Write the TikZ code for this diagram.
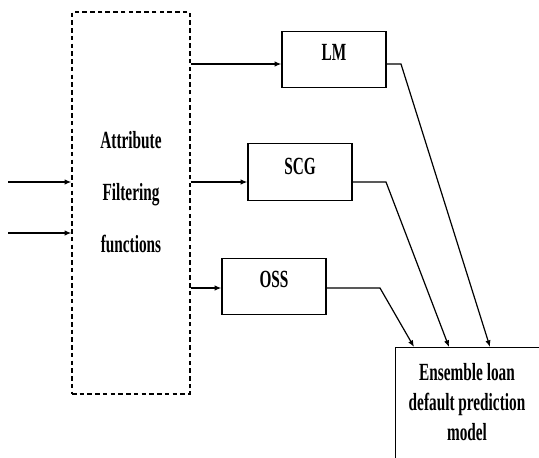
\documentclass[tikz,border=0pt]{standalone}
\usepackage{fontspec}
\setmainfont{Liberation Serif}[FakeStretch=0.62]
\usetikzlibrary{arrows.meta}
\begin{document}
\begin{tikzpicture}[x=0.75pt,y=-0.75pt,line width=0.9pt,
  lbl/.style={font=\bfseries\fontsize{18.5}{22}\selectfont},
  box/.style={draw,rectangle,minimum width=78pt,minimum height=42.5pt,inner sep=0pt},
  dbox/.style={draw,rectangle,line width=1pt,dash pattern=on 3.4pt off 2.4pt,minimum width=88.5pt,minimum height=286.5pt,inner sep=0pt},
  arr/.style={-{Latex[length=5pt,width=4pt]}}]
\useasboundingbox (0,0) rectangle (539,457);
\clip (0,0) rectangle (539,457);
% filter box
\node[dbox] (af) at (131,203) {};
\node[lbl,align=center,font=\bfseries\fontsize{18.5}{39}\selectfont] (aft) at (131,192) {Attribute\\Filtering\\functions};
% classifiers
\node[box,label={[lbl,yshift=5.5pt]center:LM}] (lm) at (334,59.5) {};
\node[box,label={[lbl,yshift=4.5pt]center:SCG}] (scg) at (300,172) {};
\node[box,label={[lbl,yshift=5pt]center:OSS}] (oss) at (274,286.5) {};
% ensemble
\node[draw,rectangle,anchor=north west,minimum width=112.5pt,minimum height=97.5pt,inner sep=0pt] (ens) at (395,347) {};
\node[lbl,align=center,font=\bfseries\fontsize{18.5}{22.5}\selectfont] (enst) at (467,402) {Ensemble loan\\default prediction\\model};
% coordinates
\coordinate (in1) at (8,182);
\coordinate (in2) at (8,233);
\coordinate (a1) at (190,64);
\coordinate (a2) at (190,182);
\coordinate (a3) at (190,288);
\coordinate (b1) at (401,64);
\coordinate (b2) at (386,182);
\coordinate (b3) at (380,288);
\path (ens.north west) ++(95,0) coordinate (e1);
\path (ens.north west) ++(54,0) coordinate (e2);
\path (ens.north west) ++(19,0) coordinate (e3);
% inputs
\draw[arr] (in1) -- (in1 -| af.west);
\draw[arr] (in2) -- (in2 -| af.west);
% to classifiers
\draw[arr] (a1 -| af.east) -- (a1 -| lm.west);
\draw[arr] (a2 -| af.east) -- (a2 -| scg.west);
\draw[arr] (a3 -| af.east) -- (a3 -| oss.west);
% to ensemble
\draw[arr] (b1 -| lm.east) -- (b1) -- (e1);
\draw[arr] (b2 -| scg.east) -- (b2) -- (e2);
\draw[arr] (b3 -| oss.east) -- (b3) -- (e3);
\end{tikzpicture}
\end{document}
